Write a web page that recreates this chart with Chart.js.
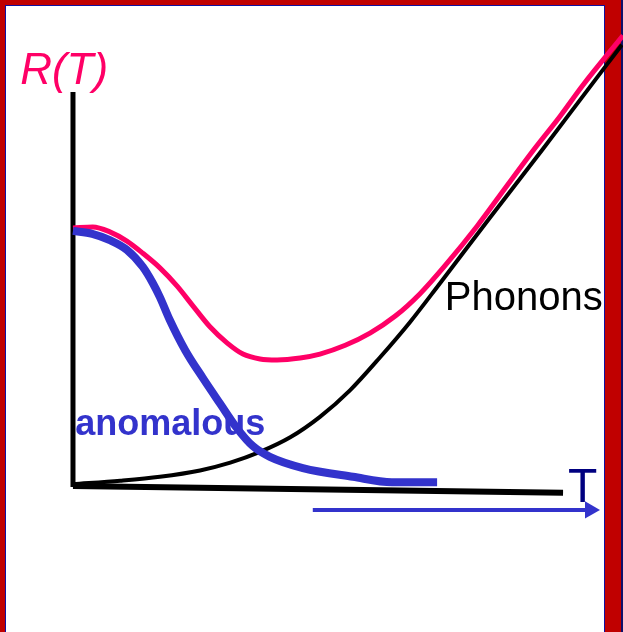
<!DOCTYPE html>
<html>
<head>
<meta charset="utf-8">
<script src="https://cdn.jsdelivr.net/npm/chart.js@4/dist/chart.umd.min.js"></script>
<style>
  html, body { margin: 0; padding: 0; width: 623px; height: 632px; overflow: hidden; background: #fff; }
  .frame { position: absolute; left: 0; top: 0; width: 623px; height: 632px; background: #C00000; }
  .inner { position: absolute; left: 5px; top: 5px; width: 600px; height: 700px; background: #fff; border: 1px solid #1010A0; box-sizing: border-box; }
  .edge { position: absolute; left: 621px; top: 0; width: 2px; height: 632px; background: #10106B; }
  #myChart { position: absolute; left: 0; top: 0; }
</style>
</head>
<body>
<div class="frame"><div class="inner"></div><div class="edge"></div></div>
<canvas id="myChart" width="623" height="632"></canvas>
<script>
// temperature T (x) and resistance R (y), arbitrary units
var totalT = [0, 3.6, 6.7, 9.8, 12.7, 15.8, 18.9, 21.8, 24.9, 28.0, 30.9, 34.0, 37.1, 41.3, 44.9, 49.5, 54.0, 58.6, 63.1, 67.6, 73.5, 78.6, 83.6, 88.6, 92.7, 100];
var totalR = [53.2, 53.4, 52.4, 50.5, 48.0, 45.0, 41.3, 37.2, 32.9, 29.6, 27.3, 26.3, 26.1, 26.5, 27.3, 29.1, 31.6, 35.1, 39.7, 45.4, 53.6, 61.4, 69.0, 76.2, 82.5, 92.7];

var phononT = [0, 8.6, 15.8, 23.1, 28.6, 34.0, 39.5, 44.9, 50.4, 55.8, 61.3, 66.7, 75.8, 85.3, 92.2, 99.8];
var phononR = [0.6, 1.3, 2.1, 3.4, 5.0, 7.2, 10.2, 14.4, 19.9, 26.6, 33.9, 41.8, 55.3, 69.2, 79.5, 90.8];

var anomT = [0, 3.5, 6.7, 9.8, 12.7, 14.5, 15.8, 17.6, 20.4, 23.6, 26.7, 29.8, 32.7, 35.8, 41.8, 50.9, 58.0, 66.2];
var anomR = [52.6, 52.0, 50.7, 48.7, 45.2, 41.9, 39.0, 34.3, 28.1, 22.4, 17.2, 12.1, 8.4, 6.2, 3.9, 2.1, 1.0, 1.0];

var yAxisT = [0, 0];
var yAxisR = [0, 81.1];
var xAxisT = [0, 89.1];
var xAxisR = [0.2, -1.2];
var arrowT = [43.6, 94.0];
var arrowR = [-4.7, -4.7];

function pts(xs, ys) {
  return xs.map(function (x, i) { return { x: x, y: ys[i] }; });
}

var labelPlugin = {
  id: 'labels',
  afterDraw: function (chart) {
    var c = chart.ctx, sx = chart.scales.x, sy = chart.scales.y;
    function txt(s, t, r, font, color) {
      c.save();
      c.font = font;
      c.fillStyle = color;
      c.textBaseline = 'alphabetic';
      c.fillText(s, sx.getPixelForValue(t), sy.getPixelForValue(r));
      c.restore();
    }
    txt('R(T)', -9.6, 82.8, 'italic 44px "Liberation Sans", Arial', '#FF0066');
    txt('Phonons', 67.6, 36.3, '40px "Liberation Sans", Arial', '#000000');
    txt('anomalous', 0.4, 10.7, 'bold 36px "Liberation Sans", Arial', '#3333CC');
    txt('T', 90.0, -3.1, '48px "Liberation Sans", Arial', '#000080');
  }
};

var ctx = document.getElementById('myChart').getContext('2d');
var myChart = new Chart(ctx, {
  type: 'line',
  data: {
    datasets: [{
      data: pts(arrowT, arrowR),
      borderColor: '#3333CC',
      backgroundColor: '#3333CC',
      borderWidth: 4,
      pointRadius: [0, 10],
      pointStyle: 'triangle',
      pointRotation: 90,
      pointBorderWidth: 0
    }, {
      data: pts(anomT, anomR),
      borderColor: '#3333CC',
      borderWidth: 8,
      cubicInterpolationMode: 'monotone',
      pointRadius: 0
    }, {
      data: pts(totalT, totalR),
      borderColor: '#FF0066',
      borderWidth: 5,
      cubicInterpolationMode: 'monotone',
      pointRadius: 0
    }, {
      data: pts(phononT, phononR),
      borderColor: '#000000',
      borderWidth: 4,
      cubicInterpolationMode: 'monotone',
      pointRadius: 0
    }, {
      data: pts(xAxisT, xAxisR),
      borderColor: '#000000',
      borderWidth: 6,
      pointRadius: 0
    }, {
      data: pts(yAxisT, yAxisR),
      borderColor: '#000000',
      borderWidth: 5,
      pointRadius: 0
    }]
  },
  options: {
    responsive: false,
    animation: false,
    devicePixelRatio: 1,
    layout: { padding: 0, autoPadding: false },
    scales: {
      x: { type: 'linear', min: -13.27, max: 100, display: false },
      y: { type: 'linear', min: -29.77, max: 100, display: false }
    },
    plugins: {
      legend: { display: false },
      tooltip: { enabled: false }
    }
  },
  plugins: [labelPlugin]
});
</script>
</body>
</html>
